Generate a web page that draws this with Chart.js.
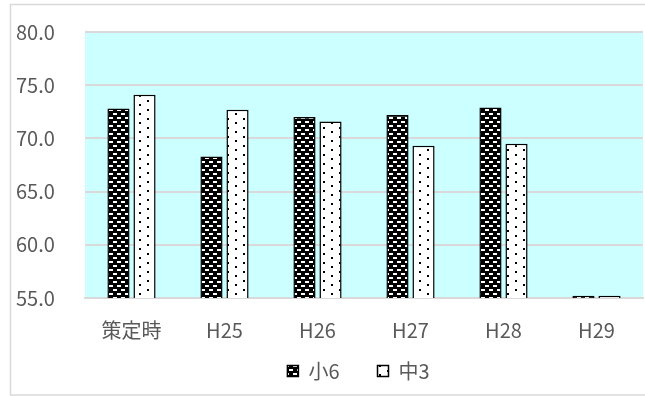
<!DOCTYPE html>
<html>
<head>
<meta charset="utf-8">
<script src="https://cdn.jsdelivr.net/npm/chart.js@4/dist/chart.umd.min.js"></script>
<style>
    body { margin: 0; background: #fff; }
    #wrap { width: 645px; height: 396px; }
</style>
</head>
<body>
<div id="wrap"><canvas id="myChart" width="645" height="396"></canvas></div>
<script>
const labels = ['策定時', 'H25', 'H26', 'H27', 'H28', 'H29'];
const shou6 = [72.8, 68.3, 72.0, 72.2, 72.9, 55.2];
const chuu3 = [74.1, 72.7, 71.6, 69.3, 69.5, 55.2];
const yTicks = [55, 60, 65, 70, 75, 80];

const font = "'Noto Sans CJK JP', 'Noto Sans', sans-serif";
const textColor = '#595959';

// black with white dashes
function brickPattern() {
    let c = document.createElement('canvas');
    c.width = 8;
    c.height = 8;
    let g = c.getContext('2d');
    g.fillStyle = '#000';
    g.fillRect(0, 0, 8, 8);
    g.fillStyle = '#fff';
    g.fillRect(1, 1, 4, 2);
    g.fillRect(5, 5, 3, 2);
    g.fillRect(0, 5, 1, 2);
    return g.createPattern(c, 'repeat');
}

// white with black dots
function dotPattern() {
    let c = document.createElement('canvas');
    c.width = 16;
    c.height = 9;
    let g = c.getContext('2d');
    g.fillStyle = '#fff';
    g.fillRect(0, 0, 16, 9);
    g.fillStyle = '#000';
    g.fillRect(3, 1, 2, 2);
    g.fillRect(11, 5, 2, 2);
    return g.createPattern(c, 'repeat');
}

const background = {
    id: 'background',
    afterLayout(chart) {
        // legend sits a bit right of centre in the original
        const lg = chart.legend;
        lg.left += 29;
        lg.right += 29;
        lg.top -= 19;
    },
    beforeDraw(chart) {
        const ctx = chart.ctx;
        const a = chart.chartArea;
        ctx.save();
        ctx.fillStyle = '#fff';
        ctx.fillRect(0, 0, chart.width, chart.height);
        ctx.strokeStyle = '#d9d9d9';
        ctx.lineWidth = 1.5;
        ctx.strokeRect(10.5, 4.5, 640, 390.5);
        ctx.fillStyle = '#ccffff';
        ctx.fillRect(a.left, a.top, a.right - a.left, a.bottom - a.top);
        ctx.restore();
    }
};

const data = {
    labels: labels,
    datasets: [{
        label: '小6',
        data: shou6,
        backgroundColor: brickPattern(),
        borderColor: '#000',
        borderWidth: 1.5
    }, {
        label: '中3',
        data: chuu3,
        backgroundColor: dotPattern(),
        borderColor: '#000',
        borderWidth: 1.5
    }]
};

const options = {
    responsive: false,
    animation: false,
    layout: { padding: { left: 16, right: 2, top: 32, bottom: 2 } },
    datasets: {
        bar: { categoryPercentage: 0.56, barPercentage: 0.85 }
    },
    scales: {
        x: {
            z: 1,
            grid: { display: false, drawTicks: false },
            border: { display: true, color: '#d9d9d9', width: 2 },
            ticks: { color: textColor, font: { family: font, size: 20 }, padding: 20 },
            afterFit(s) { s.height = 44; }
        },
        y: {
            min: 55,
            max: 80,
            afterBuildTicks(s) { s.ticks = yTicks.map(v => ({ value: v })); },
            grid: { color: '#d9d9d9', lineWidth: 2, drawTicks: false },
            border: { display: false },
            ticks: {
                color: textColor,
                font: { family: font, size: 20 },
                crossAlign: 'far',
                padding: 0,
                callback: v => v.toFixed(1)
            },
            afterFit(s) { s.width = 69; }
        }
    },
    plugins: {
        legend: {
            position: 'bottom',
            maxHeight: 52,
            labels: {
                color: textColor,
                font: { family: font, size: 20 },
                boxWidth: 11,
                boxHeight: 11,
                padding: 38
            }
        },
        tooltip: { enabled: false }
    }
};

const config = {
    type: 'bar',
    data,
    options,
    plugins: [background]
};

var myChart = new Chart(
    document.getElementById('myChart'),
    config
);
</script>
</body>
</html>
